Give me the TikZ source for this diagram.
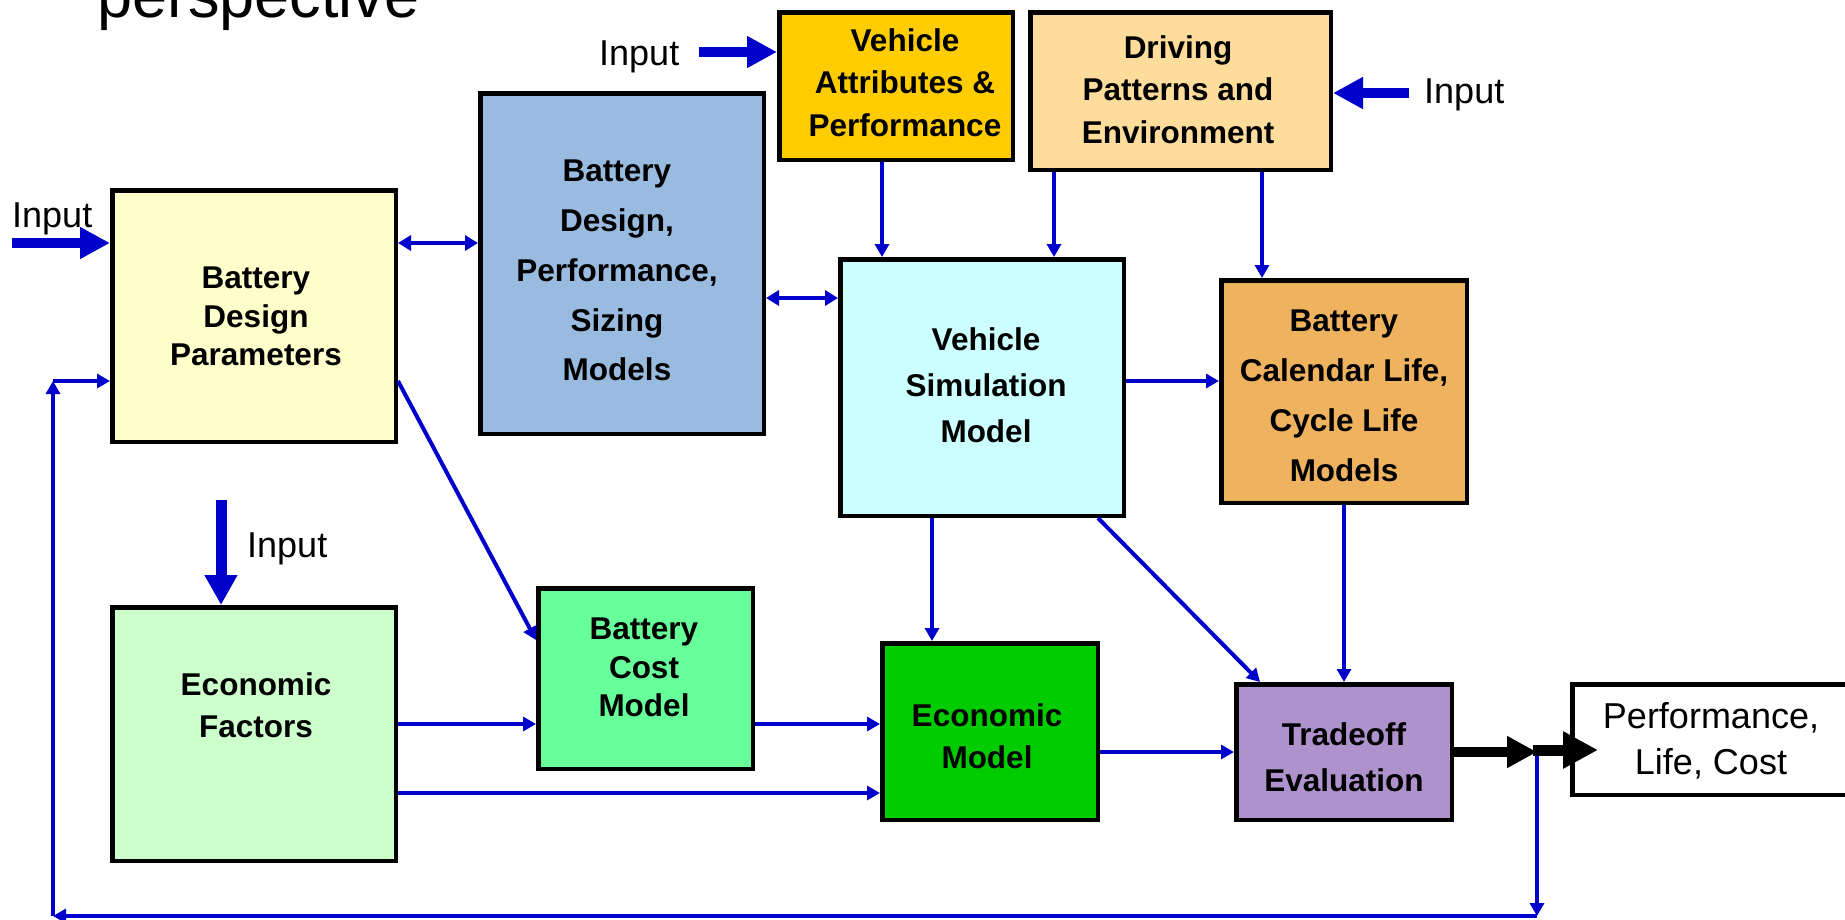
\documentclass[tikz,border=0pt]{standalone}
\usepackage{fontspec}
\setmainfont{Liberation Sans}
\usetikzlibrary{arrows.meta,calc}
\definecolor{lnblue}{HTML}{0000CC}
\definecolor{cBDP}{HTML}{FFFFCC}
\definecolor{cBDPS}{HTML}{99BBE0}
\definecolor{cVAP}{HTML}{FFCC00}
\definecolor{cDPE}{HTML}{FEDC9C}
\definecolor{cVSM}{HTML}{CCFFFF}
\definecolor{cBCL}{HTML}{EFB35F}
\definecolor{cEF}{HTML}{CCFFCC}
\definecolor{cBCM}{HTML}{66FF99}
\definecolor{cEM}{HTML}{00CC00}
\definecolor{cTE}{HTML}{AE92CC}
\begin{document}
\begin{tikzpicture}[x=1pt,y=-1pt,
  box/.style={draw=black,line width=4.5pt,inner sep=0pt},
  btxt/.style={font=\bfseries\fontsize{31.5}{#1}\selectfont,align=center,anchor=north,inner sep=0pt},
  lbl/.style={font=\fontsize{36}{43}\selectfont,anchor=base west,inner sep=0pt},
  inarrow/.style={draw=lnblue,line width=10pt,-{Triangle[length=30pt,width=30pt]}},
  conn/.style={draw=lnblue,line width=4pt,-{Triangle[length=13pt,width=14pt]}},
  dbl/.style={draw=lnblue,line width=4pt,{Triangle[length=13pt,width=15pt]}-{Triangle[length=13pt,width=15pt]}},
  blk/.style={draw=black,line width=10pt,-{Triangle[length=30pt,width=30pt]}},
  blktwo/.style={draw=black,line width=11pt,-{Triangle[length=35pt,width=35pt]}}
]
\useasboundingbox (0,0) rectangle (1845,919);
\clip (0,0) rectangle (1845,919);
\fill[white] (0,0) rectangle (1845,919);

% title fragment
\node[font=\fontsize{63}{63}\selectfont,anchor=base west,inner sep=0pt] (title) at (97,17) {perspective};

% boxes
\node[box,fill=cBDP,minimum width=283.5pt,minimum height=251.5pt] (bdp) at (254,316) {};
\node[box,fill=cBDPS,minimum width=283.5pt,minimum height=340.5pt] (bdps) at (622,263.5) {};
\node[box,fill=cVAP,minimum width=233.5pt,minimum height=147.5pt] (vap) at (896,86) {};
\node[box,fill=cDPE,minimum width=300.5pt,minimum height=157.5pt] (dpe) at (1180.5,91) {};
\node[box,fill=cVSM,minimum width=283.5pt,minimum height=256.5pt] (vsm) at (982,387.5) {};
\node[box,fill=cBCL,minimum width=245.5pt,minimum height=222.5pt] (bcl) at (1344,391.5) {};
\node[box,fill=cEF,minimum width=283.5pt,minimum height=253.5pt] (ef) at (254,734) {};
\node[box,fill=cBCM,minimum width=214.5pt,minimum height=180.5pt] (bcm) at (645.5,678.5) {};
\node[box,fill=cEM,minimum width=215.5pt,minimum height=176.5pt] (em) at (990,731.5) {};
\node[box,fill=cTE,minimum width=215.5pt,minimum height=135.5pt] (te) at (1344,752) {};
\node[box,fill=white,minimum width=325.5pt,minimum height=110.5pt] (plc) at (1735,739.5) {};

% box texts
\node[btxt=38.5] (bdp-t) at (256,267) {Battery\\Design\\Parameters};
\node[btxt=49.75] (bdps-t) at (617,160) {Battery\\Design,\\Performance,\\Sizing\\Models};
\node[btxt=42.5] (vap-t) at (905,28) {Vehicle\\Attributes \&\\Performance};
\node[btxt=42.5] (dpe-t) at (1178,35) {Driving\\Patterns and\\Environment};
\node[btxt=46] (vsm-t) at (986,327) {Vehicle\\Simulation\\Model};
\node[btxt=50] (bcl-t) at (1344,310) {Battery\\Calendar Life,\\Cycle Life\\Models};
\node[btxt=42] (ef-t) at (256,672) {Economic\\Factors};
\node[btxt=38.5] (bcm-t) at (644,618) {Battery\\Cost\\Model};
\node[btxt=42] (em-t) at (987,703) {Economic\\Model};
\node[btxt=46] (te-t) at (1344,722) {Tradeoff\\Evaluation};
\node[font=\fontsize{36}{46}\selectfont,align=center,anchor=north,inner sep=0pt] (plc-t) at (1711,702) {Performance,\\Life, Cost};

% input labels
\node[lbl] (in1-l) at (12,227) {Input};
\node[lbl] (in2-l) at (599,65) {Input};
\node[lbl] (in3-l) at (1424,103) {Input};
\node[lbl] (in4-l) at (247,557) {Input};

% helper coordinates
\coordinate (in1) at (12,243);
\coordinate (in2) at (699,52);
\coordinate (in3) at (1409,93);
\coordinate (in4) at (221,500);
\coordinate (y298) at (0,298);
\coordinate (y381) at (0,381);
\coordinate (y640) at (0,640);
\coordinate (y724) at (0,724);
\coordinate (y793) at (0,793);
\coordinate (x882) at (882,0);
\coordinate (x1054) at (1054,0);
\coordinate (x1262) at (1262,0);
\coordinate (x932) at (932,0);
\coordinate (x1098) at (1098,0);
\coordinate (x1260) at (1260,0);
\coordinate (j) at (1537,752);
\coordinate (jtwo) at (1533,750);
\coordinate (fb1) at (1537,916);
\coordinate (fb2) at (53,916);
\coordinate (fb3) at (53,381);

% input arrows
\draw[inarrow] (in1) -- (bdp.west |- in1);
\draw[inarrow] (in2) -- (vap.west |- in2);
\draw[inarrow] (in3) -- (dpe.east |- in3);
\draw[draw=lnblue,line width=11pt,-{Triangle[length=30pt,width=31pt]}] (in4) -- (ef.north -| in4);

% connectors
\draw[dbl] (bdp.east |- in1) -- (bdps.west |- in1);
\draw[dbl] (bdps.east |- y298) -- (vsm.west |- y298);
\draw[conn] (vap.south -| x882) -- (vsm.north -| x882);
\draw[conn] (dpe.south -| x1054) -- (vsm.north -| x1054);
\draw[conn] (dpe.south -| x1262) -- (bcl.north -| x1262);
\draw[conn] (vsm.east |- y381) -- (bcl.west |- y381);
\draw[conn] (bdp.east |- y381) -- (bcm.west |- y640);
\draw[conn] (ef.east |- y724) -- (bcm.west |- y724);
\draw[conn] (bcm.east |- y724) -- (em.west |- y724);
\draw[conn] (ef.east |- y793) -- (em.west |- y793);
\draw[conn] (vsm.south -| x932) -- (em.north -| x932);
\draw[conn] (vsm.south -| x1098) -- (te.north -| x1260);
\draw[conn] (bcl.south) -- (te.north);
\draw[conn] (em.east |- j) -- (te.west |- j);

% feedback loop
\draw[conn] (j) -- (fb1);
\draw[conn] (fb1) -- (fb2);
\draw[conn] (fb2) -- (fb3);
\draw[conn] (fb3) -- (bdp.west |- fb3);

% output arrows
\draw[blk] (te.east |- j) -- (j);
\draw[blktwo] (jtwo) -- ($(plc.west |- jtwo)+(28,0)$);
\end{tikzpicture}
\end{document}
